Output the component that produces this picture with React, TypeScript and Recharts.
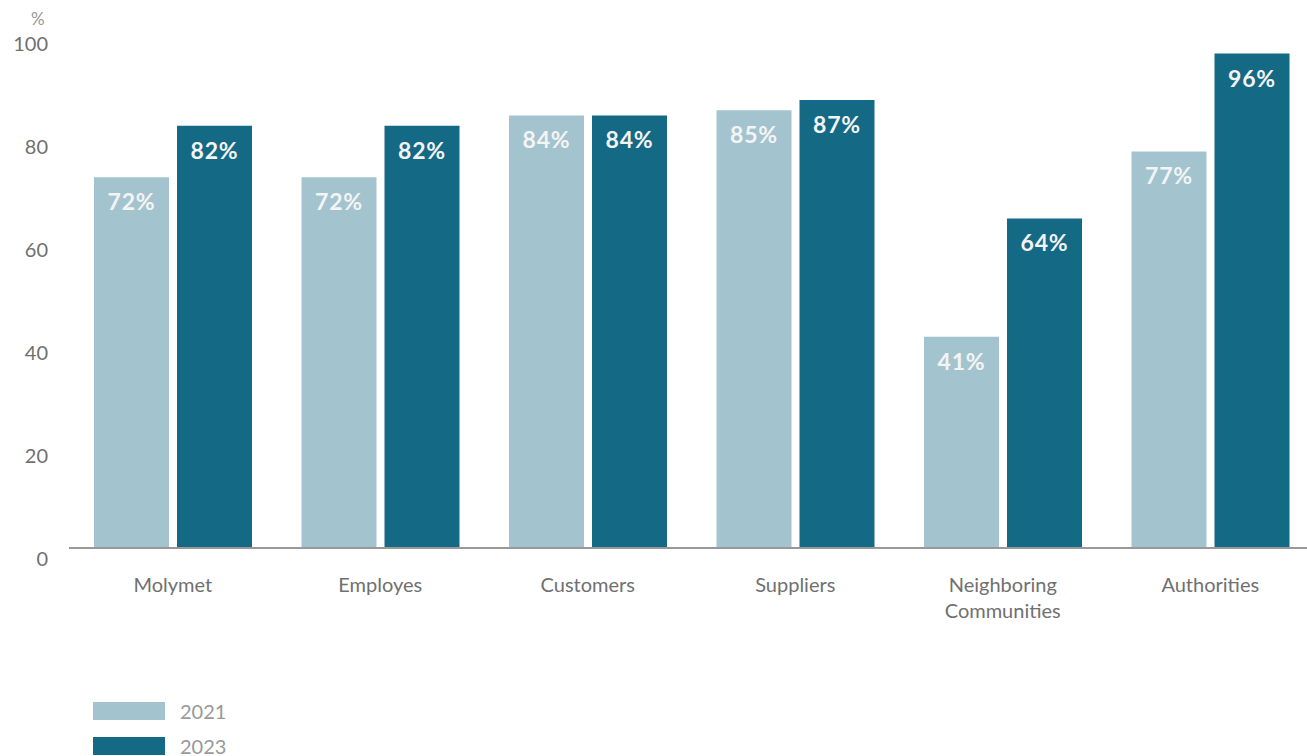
import { BarChart, Bar, XAxis, YAxis, LabelList } from "recharts";

const categories = ["Molymet", "Employes", "Customers", "Suppliers", "Neighboring Communities", "Authorities"];
const values2021 = [72, 72, 84, 85, 41, 77];
const values2023 = [82, 82, 84, 87, 64, 96];
const yTicks = [0, 20, 40, 60, 80, 100];

const series = [
  { key: "y2021", name: "2021", color: "#a3c4cf" },
  { key: "y2023", name: "2023", color: "#146985" },
];

const chartData = categories.map((category, i) => ({
  category,
  y2021: values2021[i],
  y2023: values2023[i],
}));

const FONT = "Lato, 'Open Sans', sans-serif";

const YTick = ({ y, payload }: any) => (
  <text x={48} y={y + 11} dy="0.36em" textAnchor="end" fill="#707070" fontSize={20} fontFamily={FONT}>
    {payload.value}
  </text>
);

const XTick = ({ x, y, payload }: any) => {
  const label: string = payload.value;
  const lines = label.length > 12 ? label.split(" ") : [label];
  return (
    <text x={x} y={y} textAnchor="middle" fill="#707070" fontSize={20} fontFamily={FONT}>
      {lines.map((line, i) => (
        <tspan key={i} x={x} dy={i === 0 ? 36 : 26}>
          {line}
        </tspan>
      ))}
    </text>
  );
};

const BarValue = ({ x, y, width, value }: any) => (
  <text
    x={x + width / 2}
    y={y + 33}
    textAnchor="middle"
    fill="#f4f4f4"
    fontSize={23}
    fontWeight={700}
    letterSpacing={0.8}
    fontFamily={FONT}
  >
    {value}%
  </text>
);

export default function App() {
  return (
    <div style={{ position: "absolute", left: 0, top: 0, width: 1307, height: 756, overflow: "hidden", background: "#fff" }}>
      <div style={{ position: "absolute", left: 31, top: 8, fontSize: 17, color: "#999", fontFamily: FONT }}>%</div>
      <BarChart
        width={1320}
        height={756}
        data={chartData}
        margin={{ top: 33, right: 6, bottom: 128, left: 0 }}
        barSize={75}
        barGap={8}
      >
        <XAxis dataKey="category" axisLine={{ stroke: "#999", strokeWidth: 2 }} tickLine={false} tick={<XTick />} height={80} interval={0} />
        <YAxis domain={[0, 100]} ticks={yTicks} width={69} axisLine={false} tickLine={false} tick={<YTick />} />
        {series.map((s) => (
          <Bar key={s.key} dataKey={s.key} name={s.name} fill={s.color} isAnimationActive={false}>
            <LabelList dataKey={s.key} content={<BarValue />} />
          </Bar>
        ))}
      </BarChart>
      {series.map((s, i) => (
        <div key={s.key} style={{ position: "absolute", left: 93, top: 702 + i * 35, display: "flex", alignItems: "center" }}>
          <div style={{ width: 72, height: 18, background: s.color }} />
          <span style={{ marginLeft: 15, fontSize: 20, color: "#999", fontFamily: FONT, lineHeight: "18px" }}>{s.name}</span>
        </div>
      ))}
    </div>
  );
}
